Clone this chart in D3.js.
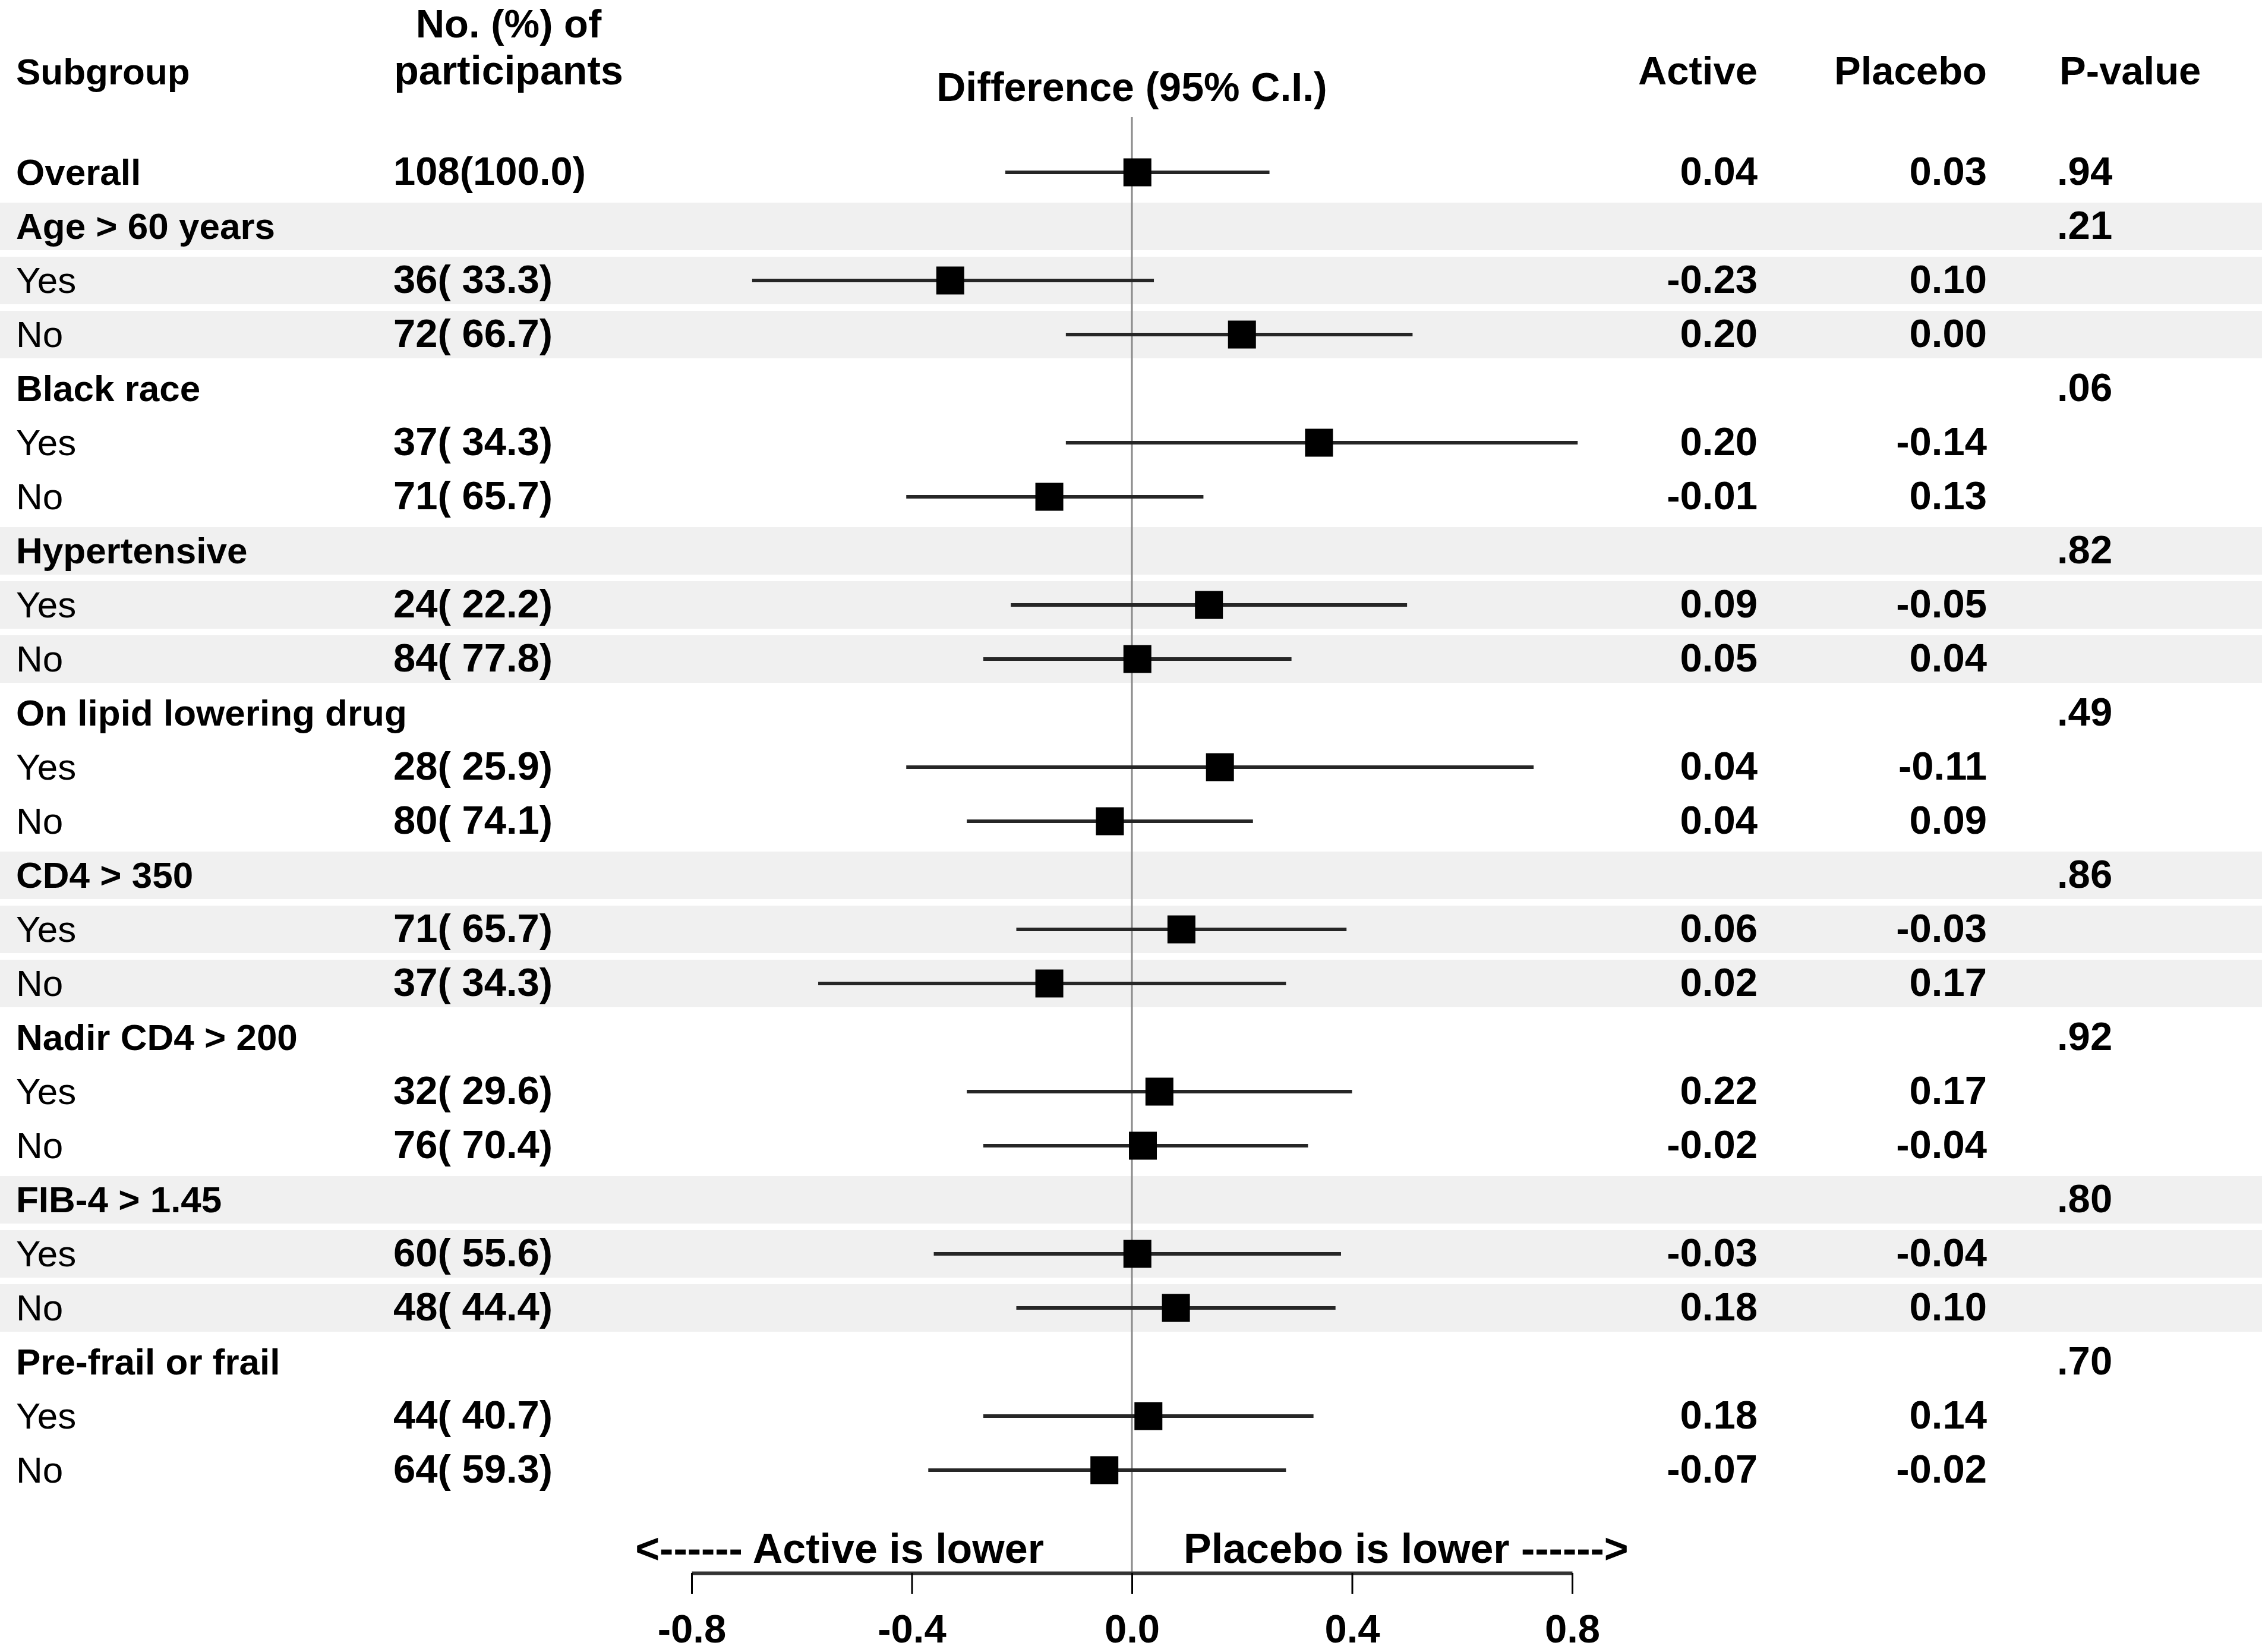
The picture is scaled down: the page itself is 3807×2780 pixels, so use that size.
<!DOCTYPE html>
<html>
<head>
<meta charset="utf-8">
<script src="https://cdn.jsdelivr.net/npm/d3@7"></script>
<style>
  html, body { margin: 0; padding: 0; background: #ffffff; }
  svg text { font-family: "Liberation Sans", Arial, sans-serif; fill: #000; }
</style>
</head>
<body>
<svg id="chart" width="3807" height="2780"></svg>
<script>
// ---------------- data ----------------
const subgroups = ["Overall", "Age > 60 years", "Yes", "No", "Black race", "Yes", "No",
  "Hypertensive", "Yes", "No", "On lipid lowering drug", "Yes", "No",
  "CD4 > 350", "Yes", "No", "Nadir CD4 > 200", "Yes", "No",
  "FIB-4 > 1.45", "Yes", "No", "Pre-frail or frail", "Yes", "No"];
const isTitle = [1, 1, 0, 0, 1, 0, 0, 1, 0, 0, 1, 0, 0, 1, 0, 0, 1, 0, 0, 1, 0, 0, 1, 0, 0];
const groupIndex = [0, 1, 1, 1, 2, 2, 2, 3, 3, 3, 4, 4, 4, 5, 5, 5, 6, 6, 6, 7, 7, 7, 8, 8, 8];
const participants = ["108(100.0)", "", "36( 33.3)", "72( 66.7)", "", "37( 34.3)", "71( 65.7)",
  "", "24( 22.2)", "84( 77.8)", "", "28( 25.9)", "80( 74.1)",
  "", "71( 65.7)", "37( 34.3)", "", "32( 29.6)", "76( 70.4)",
  "", "60( 55.6)", "48( 44.4)", "", "44( 40.7)", "64( 59.3)"];
const estimate = [0.01, null, -0.33, 0.20, null, 0.34, -0.15, null, 0.14, 0.01, null, 0.16, -0.04,
  null, 0.09, -0.15, null, 0.05, 0.02, null, 0.01, 0.08, null, 0.03, -0.05];
const lower = [-0.23, null, -0.69, -0.12, null, -0.12, -0.41, null, -0.22, -0.27, null, -0.41, -0.30,
  null, -0.21, -0.57, null, -0.30, -0.27, null, -0.36, -0.21, null, -0.27, -0.37];
const upper = [0.25, null, 0.04, 0.51, null, 0.81, 0.13, null, 0.50, 0.29, null, 0.73, 0.22,
  null, 0.39, 0.28, null, 0.40, 0.32, null, 0.38, 0.37, null, 0.33, 0.28];
const active = ["0.04", "", "-0.23", "0.20", "", "0.20", "-0.01", "", "0.09", "0.05", "", "0.04", "0.04",
  "", "0.06", "0.02", "", "0.22", "-0.02", "", "-0.03", "0.18", "", "0.18", "-0.07"];
const placebo = ["0.03", "", "0.10", "0.00", "", "-0.14", "0.13", "", "-0.05", "0.04", "", "-0.11", "0.09",
  "", "-0.03", "0.17", "", "0.17", "-0.04", "", "-0.04", "0.10", "", "0.14", "-0.02"];
const pvalue = [".94", ".21", "", "", ".06", "", "", ".82", "", "", ".49", "", "",
  ".86", "", "", ".92", "", "", ".80", "", "", ".70", "", ""];
const tickValues = [-0.8, -0.4, 0.0, 0.4, 0.8];
const headers = { subgroup: "Subgroup", n1: "No. (%) of", n2: "participants",
  diff: "Difference (95% C.I.)", active: "Active", placebo: "Placebo", p: "P-value" };
const arrowLeft = "<------ Active is lower";
const arrowRight = "Placebo is lower ------>";

// ---------------- layout ----------------
const W = 3807, H = 2780;
const FS_LABEL = 62, FS_NUM = 67, FS_HEAD = 67, FS_ARROW = 70;
const svg = d3.select("#chart");
svg.append("rect").attr("width", W).attr("height", H).attr("fill", "#fff");

const x = d3.scaleLinear().domain([-0.8, 0.8]).range([1164, 2646]);
const y = d3.scaleLinear().domain([0, subgroups.length - 1]).range([290, 2474]);
const rows = subgroups.map((s, i) => ({ i, s, title: isTitle[i], g: groupIndex[i] }));

// shaded bands for alternating groups
svg.append("g").selectAll("rect")
  .data(rows.filter(r => r.g > 0 && r.g % 2 === 1))
  .join("rect")
  .attr("x", 0).attr("width", W)
  .attr("y", d => y(d.i) - 40).attr("height", 80)
  .attr("fill", "#f0f0f0");

const axisY = 2647;
// reference line at zero
svg.append("line")
  .attr("x1", x(0)).attr("x2", x(0)).attr("y1", 197).attr("y2", axisY)
  .attr("stroke", "#8a8a8a").attr("stroke-width", 3);

// CI lines
const pts = rows.filter(r => estimate[r.i] !== null);
svg.append("g").selectAll("line")
  .data(pts).join("line")
  .attr("x1", d => x(lower[d.i])).attr("x2", d => x(upper[d.i]))
  .attr("y1", d => y(d.i)).attr("y2", d => y(d.i))
  .attr("stroke", "#262626").attr("stroke-width", 6);
// markers
const MS = 47;
svg.append("g").selectAll("rect")
  .data(pts).join("rect")
  .attr("x", d => x(estimate[d.i]) - MS / 2).attr("y", d => y(d.i) - MS / 2)
  .attr("width", MS).attr("height", MS).attr("fill", "#000");

// text helper
const txt = (g, xx, yy, s, anchor, weight, fs) => g.append("text")
  .attr("x", xx).attr("y", yy).attr("text-anchor", anchor)
  .attr("font-size", fs).attr("font-weight", weight)
  .attr("xml:space", "preserve").style("white-space", "pre").text(s);

const tg = svg.append("g");
const base = 21;
rows.forEach(r => {
  const yy = y(r.i) + base;
  txt(tg, 27, yy, r.s, "start", r.title ? "bold" : "normal", FS_LABEL);
  if (participants[r.i]) txt(tg, 662, yy, participants[r.i], "start", "bold", FS_NUM);
  if (active[r.i]) txt(tg, 2958, yy, active[r.i], "end", "bold", FS_NUM);
  if (placebo[r.i]) txt(tg, 3344, yy, placebo[r.i], "end", "bold", FS_NUM);
  if (pvalue[r.i]) txt(tg, 3462, yy, pvalue[r.i], "start", "bold", FS_NUM);
});

// headers
txt(tg, 27, 142, headers.subgroup, "start", "bold", FS_LABEL);
txt(tg, 856, 63, headers.n1, "middle", "bold", FS_HEAD);
txt(tg, 856, 142, headers.n2, "middle", "bold", FS_HEAD + 1);
txt(tg, x(0), 170, headers.diff, "middle", "bold", FS_HEAD + 1);
txt(tg, 2958, 142, headers.active, "end", "bold", FS_HEAD);
txt(tg, 3344, 142, headers.placebo, "end", "bold", FS_HEAD);
txt(tg, 3466, 142, headers.p, "start", "bold", FS_HEAD);

// direction labels
txt(tg, x(0) - 148, 2630, arrowLeft, "end", "bold", FS_ARROW);
txt(tg, x(0) + 87, 2630, arrowRight, "start", "bold", FS_ARROW);

// axis
const axis = d3.axisBottom(x).tickValues(tickValues)
  .tickFormat(d => d.toFixed(1)).tickSize(35).tickSizeOuter(0).tickPadding(34);
const ag = svg.append("g").attr("transform", `translate(0,${axisY})`).call(axis);
ag.select(".domain").attr("stroke", "#333").attr("stroke-width", 6);
ag.selectAll(".tick line").attr("stroke", "#000").attr("stroke-width", 3);
ag.selectAll(".tick text")
  .attr("font-size", FS_NUM).attr("font-weight", "bold")
  .style("font-family", "'Liberation Sans', Arial, sans-serif")
  .attr("fill", "#000");
</script>
</body>
</html>
